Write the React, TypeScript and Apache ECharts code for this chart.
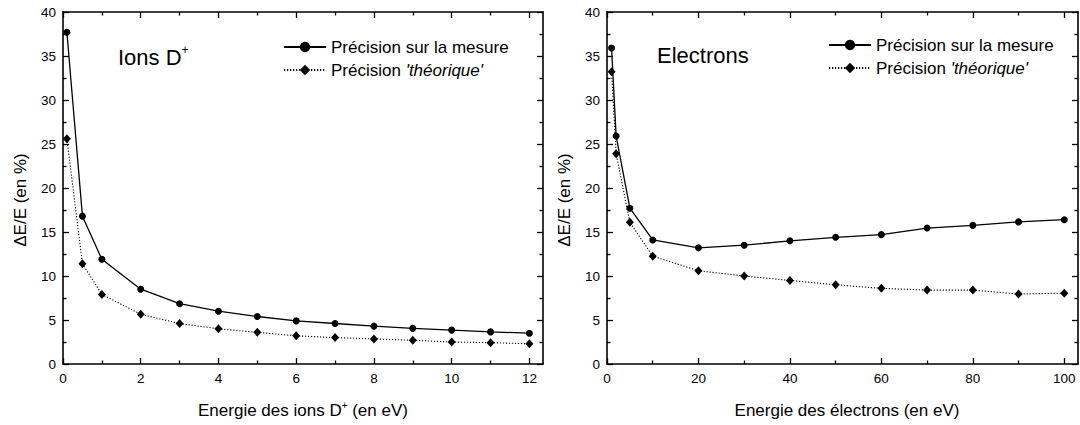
import React, { useEffect, useRef } from "react";
import * as echarts from "echarts";

// ---------- data ----------
const ionEnergy = [0.1, 0.5, 1, 2, 3, 4, 5, 6, 7, 8, 9, 10, 11, 12];
const ionMeasured = [37.7, 16.8, 11.9, 8.5, 6.85, 6.0, 5.4, 4.9, 4.6, 4.3, 4.05, 3.85, 3.65, 3.5];
const ionTheoretical = [25.6, 11.4, 7.9, 5.65, 4.6, 4.0, 3.6, 3.2, 3.0, 2.85, 2.7, 2.5, 2.42, 2.3];

const elecEnergy = [1, 2, 5, 10, 20, 30, 40, 50, 60, 70, 80, 90, 100];
const elecMeasured = [35.9, 25.9, 17.7, 14.1, 13.2, 13.5, 14.0, 14.4, 14.7, 15.45, 15.75, 16.15, 16.4];
const elecTheoretical = [33.2, 23.9, 16.1, 12.25, 10.6, 10.0, 9.5, 9.0, 8.6, 8.4, 8.4, 7.95, 8.05];

const ionMajorTicks = [0, 2, 4, 6, 8, 10, 12];
const ionMinorTicks = [1, 3, 5, 7, 9, 11];
const elecMajorTicks = [0, 20, 40, 60, 80, 100];
const elecMinorTicks = [10, 30, 50, 70, 90];
const yMajorTicks = [0, 5, 10, 15, 20, 25, 30, 35, 40];
const yMinorTicks = [2.5, 7.5, 12.5, 17.5, 22.5, 27.5, 32.5, 37.5];

const MEAS = "Précision sur la mesure";
const THEO = "Précision 'théorique'";

const FONT = "Arial, 'Liberation Sans', Helvetica, sans-serif";
const BLACK = "#000";

function makeAxes(
  dim: "x" | "y",
  gridIndex: number,
  min: number,
  max: number,
  major: number[],
  minor: number[]
) {
  const positions = dim === "x" ? ["bottom", "top"] : ["left", "right"];
  const axes: any[] = [];
  positions.forEach((pos, pi) => {
    [true, false].forEach((isMajor) => {
      axes.push({
        type: "value",
        gridIndex,
        position: pos,
        min,
        max,
        axisLine: {
          show: isMajor,
          onZero: false,
          lineStyle: { color: BLACK, width: 1.6 },
        },
        axisTick: {
          show: true,
          inside: true,
          length: isMajor ? 6 : 3.5,
          customValues: isMajor ? major : minor,
          lineStyle: { color: BLACK, width: 1.3 },
        },
        axisLabel: {
          show: isMajor && pi === 0,
          customValues: major,
          color: BLACK,
          fontSize: 13.5,
          fontFamily: FONT,
          margin: 7,
        },
        splitLine: { show: false },
        minorTick: { show: false },
      });
    });
  });
  return axes;
}

function pairs(xs: number[], ys: number[]) {
  return xs.map((x, i) => [x, ys[i]]);
}

function seriesFor(xIdx: number, yIdx: number, xs: number[], meas: number[], theo: number[]) {
  return [
    {
      name: MEAS,
      type: "line",
      xAxisIndex: xIdx,
      yAxisIndex: yIdx,
      data: pairs(xs, meas),
      symbol: "circle",
      symbolSize: 7,
      lineStyle: { color: BLACK, width: 1.3 },
      itemStyle: { color: BLACK },
    },
    {
      name: THEO,
      type: "line",
      xAxisIndex: xIdx,
      yAxisIndex: yIdx,
      data: pairs(xs, theo),
      symbol: "diamond",
      symbolSize: [8, 9],
      lineStyle: { color: BLACK, width: 1.1, type: [1.2, 1.8] },
      itemStyle: { color: BLACK },
    },
  ];
}

function legendFor(left: number, top: number) {
  return {
    left,
    top,
    orient: "vertical",
    padding: 0,
    itemWidth: 42,
    itemHeight: 13,
    itemGap: 3,
    selectedMode: false,
    data: [MEAS, THEO],
    formatter: (name: string) => (name === THEO ? "Précision {i|'théorique'}" : name),
    textStyle: {
      color: BLACK,
      fontSize: 17,
      fontFamily: FONT,
      lineHeight: 20,
      rich: {
        i: { fontStyle: "italic", fontSize: 17, fontFamily: FONT, color: BLACK, lineHeight: 20 },
      },
    },
  };
}

export default function App() {
  const ref = useRef<HTMLDivElement>(null);

  useEffect(() => {
    document.body.style.margin = "0";
    const chart = echarts.init(ref.current!, undefined, { renderer: "svg" });

    const xAxes = [
      ...makeAxes("x", 0, 0, 12.35, ionMajorTicks, ionMinorTicks),
      ...makeAxes("x", 1, 0, 103, elecMajorTicks, elecMinorTicks),
    ];
    const yAxes = [
      ...makeAxes("y", 0, 0, 40, yMajorTicks, yMinorTicks),
      ...makeAxes("y", 1, 0, 40, yMajorTicks, yMinorTicks),
    ];

    const titleStyle = { fill: BLACK, fontSize: 17, fontFamily: FONT };

    chart.setOption({
      animation: false,
      backgroundColor: "#fff",
      grid: [
        { left: 63, top: 12, width: 480, height: 352 },
        { left: 607, top: 12, width: 471, height: 352 },
      ],
      xAxis: xAxes,
      yAxis: yAxes,
      legend: [legendFor(283, 37), legendFor(828, 35)],
      series: [
        ...seriesFor(0, 0, ionEnergy, ionMeasured, ionTheoretical),
        ...seriesFor(4, 4, elecEnergy, elecMeasured, elecTheoretical),
      ],
      graphic: [
        {
          type: "text",
          x: 20,
          y: 200,
          rotation: Math.PI / 2,
          style: { ...titleStyle, text: "ΔE/E (en %)", align: "center", verticalAlign: "middle" },
        },
        {
          type: "text",
          x: 564,
          y: 200,
          rotation: Math.PI / 2,
          style: { ...titleStyle, text: "ΔE/E (en %)", align: "center", verticalAlign: "middle" },
        },
        {
          type: "text",
          x: 303,
          y: 410,
          style: {
            ...titleStyle,
            text: "Energie des ions D{sup|+} (en eV)",
            align: "center",
            verticalAlign: "middle",
            lineHeight: 20,
            rich: { sup: { fontSize: 10, fontFamily: FONT, fill: BLACK, verticalAlign: "top", lineHeight: 12 } },
          },
        },
        {
          type: "text",
          x: 847,
          y: 410,
          style: { ...titleStyle, text: "Energie des électrons (en eV)", align: "center", verticalAlign: "middle" },
        },
        {
          type: "text",
          x: 118,
          y: 57,
          style: {
            fill: BLACK,
            fontSize: 22,
            fontFamily: FONT,
            text: "Ions D{sup|+}",
            align: "left",
            verticalAlign: "middle",
            lineHeight: 26,
            rich: { sup: { fontSize: 12, fontFamily: FONT, fill: BLACK, verticalAlign: "top", lineHeight: 14 } },
          },
        },
        {
          type: "text",
          x: 657,
          y: 55,
          style: { fill: BLACK, fontSize: 22, fontFamily: FONT, text: "Electrons", align: "left", verticalAlign: "middle" },
        },
      ],
    });

    return () => chart.dispose();
  }, []);

  return (
    <div
      ref={ref}
      style={{ position: "fixed", left: 0, top: 0, width: 1080, height: 425, background: "#fff" }}
    />
  );
}
